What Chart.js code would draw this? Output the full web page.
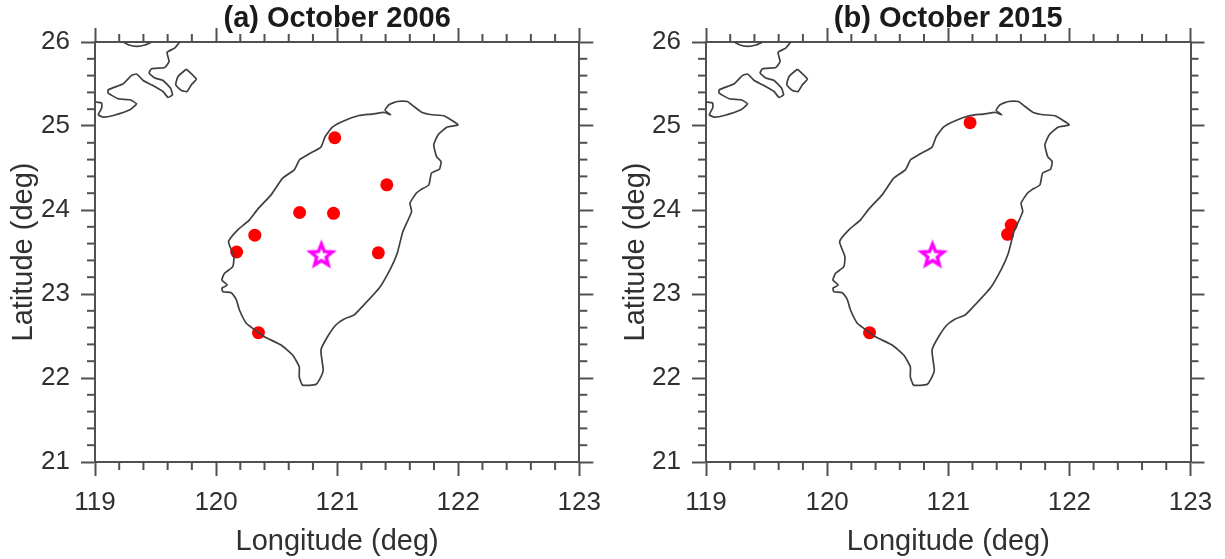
<!DOCTYPE html>
<html>
<head>
<meta charset="utf-8">
<title>Taiwan station maps</title>
<script src="https://cdn.jsdelivr.net/npm/chart.js@4"></script>
<style>
  html, body { margin: 0; padding: 0; background: #fff; }
  canvas { position: absolute; top: 0; }
  #panelA { left: 0; }
  #panelB { left: 612px; }
</style>
</head>
<body>
<canvas id="panelA" width="612" height="559"></canvas>
<canvas id="panelB" width="613" height="559"></canvas>
<script>
// coastlines, [lon, lat]
const taiwanCoast = [
  [120.687, 24.597], [120.770, 24.669], [120.866, 24.749], [120.901, 24.875], [120.961, 24.987],
  [121.044, 25.054], [121.181, 25.125], [121.291, 25.142], [121.387, 25.161], [121.442, 25.134],
  [121.395, 25.185], [121.428, 25.253], [121.496, 25.292], [121.579, 25.292], [121.634, 25.232],
  [121.702, 25.161], [121.784, 25.134], [121.881, 25.122], [121.998, 25.014], [121.908, 24.987],
  [121.834, 24.895], [121.798, 24.776], [121.821, 24.636], [121.858, 24.577], [121.845, 24.486],
  [121.779, 24.439], [121.757, 24.299], [121.689, 24.240], [121.653, 24.200], [121.601, 24.081],
  [121.615, 23.981], [121.543, 23.743], [121.496, 23.485], [121.442, 23.306], [121.346, 23.068],
  [121.195, 22.830], [121.140, 22.750], [121.058, 22.702], [120.989, 22.631], [120.920, 22.491],
  [120.866, 22.333], [120.885, 22.094], [120.866, 22.014], [120.825, 21.924], [120.714, 21.915],
  [120.687, 22.014], [120.687, 22.134], [120.632, 22.273], [120.537, 22.392], [120.399, 22.491],
  [120.303, 22.591], [120.249, 22.651], [120.193, 22.809], [120.166, 22.937], [120.125, 23.015],
  [120.056, 23.027], [120.048, 23.068], [120.092, 23.107], [120.048, 23.167], [120.070, 23.247],
  [120.138, 23.325], [120.147, 23.445], [120.103, 23.623], [120.179, 23.763], [120.276, 23.882],
  [120.344, 24.010], [120.454, 24.180], [120.550, 24.379], [120.646, 24.478], [120.687, 24.597]
];
const mainlandCoast = [
  [119.700, 26.000], [119.658, 25.928], [119.595, 25.876], [119.612, 25.769], [119.576, 25.697],
  [119.467, 25.682], [119.447, 25.631], [119.494, 25.571], [119.562, 25.542], [119.623, 25.452],
  [119.640, 25.372], [119.603, 25.340], [119.562, 25.411], [119.467, 25.491], [119.398, 25.542],
  [119.343, 25.619], [119.302, 25.602], [119.233, 25.503], [119.109, 25.431], [119.109, 25.392],
  [119.192, 25.324], [119.288, 25.312], [119.343, 25.265], [119.288, 25.193], [119.151, 25.125],
  [119.068, 25.106], [119.027, 25.134], [119.055, 25.213], [119.055, 25.273], [119.000, 25.285]
];
const topBayCoast = [
  [119.233, 26.000], [119.274, 25.968], [119.343, 25.948], [119.412, 25.964], [119.467, 26.000]
];
const islandCoast = [
  [119.755, 25.678], [119.837, 25.559], [119.796, 25.491], [119.760, 25.411], [119.714, 25.423],
  [119.667, 25.491], [119.686, 25.590], [119.755, 25.678]
];

// red points of each month
const stations2006 = [
  [120.98, 24.86], [121.41, 24.30], [120.69, 23.97], [120.97, 23.96],
  [120.32, 23.70], [120.17, 23.50], [121.34, 23.49], [120.35, 22.54]
];
const stations2015 = [
  [121.18, 25.04], [121.52, 23.82], [121.49, 23.71], [120.35, 22.54]
];
const epicenter = [[120.87, 23.47]];

const lonTicks = { min: 119, max: 123, step: 0.2 };
const latTicks = { min: 21, max: 26, step: 0.2 };

const axisColor = '#505050';
const textColor = '#303030';
const coastColor = '#404040';

function isWhole(v) {
  return Number.isInteger(Math.round(v * 10) / 10);
}

function toXY(list) {
  return list.map(function(p) { return { x: p[0], y: p[1] }; });
}

// 5 arm star as a marker, chart.js own 'star' is an asterisk
function makeStar() {
  const size = 32, cv = document.createElement('canvas');
  cv.width = size; cv.height = size;
  const c = cv.getContext('2d');
  c.beginPath();
  for (let i = 0; i < 10; i++) {
    const r = i % 2 ? 5 : 11.5;
    const a = -Math.PI / 2 + i * Math.PI / 5;
    c.lineTo(size / 2 + r * Math.cos(a), size / 2 + 1 + r * Math.sin(a));
  }
  c.closePath();
  c.fillStyle = '#fff';
  c.fill();
  c.strokeStyle = '#ff00ff';
  c.lineWidth = 3.4;
  c.stroke();
  return cv;
}

// chart.js has a single tickLength, so the short ticks are drawn here
const minorTicks = {
  id: 'minorTicks',
  afterDraw: function(chart) {
    const ctx = chart.ctx, len = 8;
    ctx.save();
    ctx.strokeStyle = axisColor;
    ctx.lineWidth = 2;
    Object.values(chart.scales).forEach(function(s) {
      s.ticks.forEach(function(t) {
        if (isWhole(t.value)) return;
        const p = s.getPixelForValue(t.value);
        ctx.beginPath();
        if (s.position === 'left') { ctx.moveTo(s.right, p); ctx.lineTo(s.right - len, p); }
        if (s.position === 'right') { ctx.moveTo(s.left, p); ctx.lineTo(s.left + len, p); }
        if (s.position === 'top') { ctx.moveTo(p, s.bottom); ctx.lineTo(p, s.bottom - len); }
        if (s.position === 'bottom') { ctx.moveTo(p, s.top); ctx.lineTo(p, s.top + len); }
        ctx.stroke();
      });
    });
    ctx.restore();
  }
};

function axis(pos, range, size, title) {
  const horizontal = pos === 'top' || pos === 'bottom';
  return {
    type: 'linear',
    axis: horizontal ? 'x' : 'y',
    position: pos,
    min: range.min,
    max: range.max,
    afterFit: function(s) {
      if (horizontal) s.height = size; else s.width = size;
    },
    border: { display: true, color: axisColor, width: 2 },
    grid: {
      drawOnChartArea: false,
      drawTicks: true,
      tickLength: 14,
      tickWidth: 2,
      tickColor: function(c) { return isWhole(c.tick.value) ? axisColor : 'rgba(0,0,0,0)'; }
    },
    ticks: {
      display: !!title,
      stepSize: range.step,
      autoSkip: false,
      maxRotation: 0,
      padding: 11,
      color: textColor,
      font: { family: '"Liberation Sans"', size: 26 },
      callback: function(v) { return isWhole(v) ? String(Math.round(v)) : ''; }
    },
    title: {
      display: !!title,
      text: title,
      color: textColor,
      padding: { top: 7, bottom: 0 },
      font: { family: '"Liberation Sans"', size: 29 }
    }
  };
}

function lineSet(list) {
  return {
    data: toXY(list),
    showLine: true,
    borderColor: coastColor,
    borderWidth: 1.7,
    pointRadius: 0,
    tension: 0.15,
    fill: false
  };
}

function drawPanel(id, heading, stations, sizes) {
  new Chart(document.getElementById(id), {
    type: 'scatter',
    data: {
      datasets: [
        lineSet(taiwanCoast),
        lineSet(mainlandCoast),
        lineSet(topBayCoast),
        lineSet(islandCoast),
        {
          data: toXY(stations),
          pointRadius: 6.5,
          pointBackgroundColor: '#ff0000',
          pointBorderWidth: 0
        },
        {
          data: toXY(epicenter),
          pointStyle: makeStar()
        }
      ]
    },
    options: {
      responsive: false,
      animation: false,
      layout: { padding: 0 },
      plugins: {
        legend: { display: false },
        tooltip: { enabled: false },
        title: {
          display: true,
          text: heading,
          fullSize: false,
          color: '#1a1a1a',
          padding: { top: 4, bottom: 0 },
          font: { family: '"Liberation Sans"', size: 29, weight: 'bold', lineHeight: 1 }
        }
      },
      scales: {
        x: axis('bottom', lonTicks, 97, 'Longitude (deg)'),
        y: axis('left', latTicks, sizes.left, 'Latitude (deg)'),
        x2: axis('top', lonTicks, 9, ''),
        y2: axis('right', latTicks, sizes.right, '')
      }
    },
    plugins: [minorTicks]
  });
}

drawPanel('panelA', '(a) October 2006', stations2006, { left: 95, right: 31 });
drawPanel('panelB', '(b) October 2015', stations2015, { left: 94, right: 34.5 });
</script>
</body>
</html>
